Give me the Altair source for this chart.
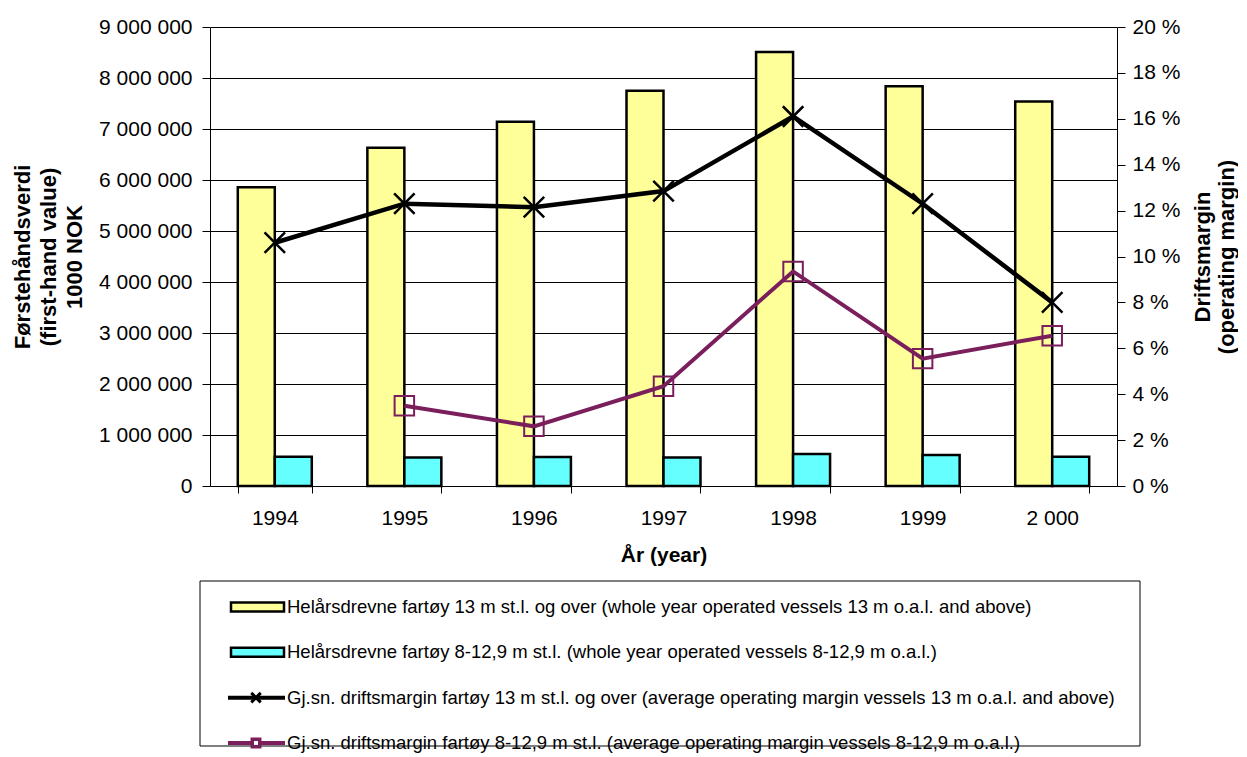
import altair as alt
import pandas as pd

years = ["1994", "1995", "1996", "1997", "1998", "1999", "2 000"]
value_13m = [5860000, 6630000, 7140000, 7750000, 8510000, 7840000, 7540000]
value_8m = [574000, 560000, 570000, 560000, 627000, 610000, 575000]
margin_13m = [10.6, 12.3, 12.15, 12.85, 16.1, 12.3, 8.0]
margin_8m = [None, 3.5, 2.6, 4.35, 9.35, 5.55, 6.55]

series_names = [
    "Helårsdrevne fartøy 13 m st.l. og over (whole year operated vessels 13 m o.a.l. and above)",
    "Helårsdrevne fartøy 8-12,9 m st.l. (whole year operated vessels 8-12,9 m o.a.l.)",
    "Gj.sn. driftsmargin fartøy 13 m st.l. og over (average operating margin vessels 13 m o.a.l. and above)",
    "Gj.sn. driftsmargin fartøy 8-12,9 m st.l. (average operating margin vessels 8-12,9 m o.a.l.)",
]
left_ticks = list(range(0, 9000001, 1000000))
right_ticks = list(range(0, 21, 2))

YELLOW = "#FFFF99"
CYAN = "#66FFFF"
PURPLE = "#7A1F5C"
XPATH = "M-1,-1L1,1M-1,1L1,-1"
FONT = "Liberation Sans"

bars_df = pd.DataFrame(
    [{"year": y, "series": series_names[0], "value": v} for y, v in zip(years, value_13m)]
    + [{"year": y, "series": series_names[1], "value": v} for y, v in zip(years, value_8m)]
)
m13_df = pd.DataFrame({"year": years, "margin": margin_13m})
m8_df = pd.DataFrame({"year": years, "margin": margin_8m}).dropna()

x_enc = alt.X(
    "year:N",
    sort=years,
    scale=alt.Scale(paddingInner=0.429, paddingOuter=0.2145),
    axis=alt.Axis(
        title="År (year)",
        labelAngle=0,
        tickBand="extent",
        tickSize=7,
        tickColor="black",
        domainColor="black",
        labelFontSize=21,
        labelPadding=14,
        labelColor="black",
        titleFontSize=21,
        titleFontWeight="bold",
        titlePadding=16,
        titleColor="black",
        grid=False,
    ),
)

left_axis = alt.Axis(
    values=left_ticks,
    orient="left",
    labelExpr="replace(format(datum.value, ','), /,/g, ' ')",
    title=["Førstehåndsverdi", "(first-hand value)", "1000 NOK"],
    titleFontSize=22,
    titleFontWeight="bold",
    titleLineHeight=26,
    titleAngle=270,
    titleBaseline="bottom",
    titlePadding=12,
    titleColor="black",
    labelFontSize=21,
    labelPadding=10,
    labelColor="black",
    tickSize=8,
    tickColor="black",
    domainColor="black",
    grid=True,
    gridColor="black",
    gridWidth=1,
)

right_axis = alt.Axis(
    values=right_ticks,
    orient="right",
    labelExpr="datum.value + ' %'",
    title=["Driftsmargin", "(operating margin)"],
    titleFontSize=22,
    titleFontWeight="bold",
    titleLineHeight=24,
    titleAngle=270,
    titleBaseline="top",
    titlePadding=-11,
    titleColor="black",
    labelFontSize=21,
    labelPadding=7,
    labelColor="black",
    tickSize=8,
    tickColor="black",
    domainColor="black",
    grid=False,
)

bars = alt.Chart(bars_df).mark_bar(stroke="black", strokeWidth=2.5).encode(
    x=x_enc,
    xOffset=alt.XOffset("series:N", sort=series_names[:2], scale=alt.Scale(paddingInner=0, paddingOuter=0)),
    y=alt.Y("value:Q", scale=alt.Scale(domain=[0, 9000000], nice=False), axis=left_axis),
    fill=alt.Fill("series:N", scale=alt.Scale(domain=series_names[:2], range=[YELLOW, CYAN]), legend=None),
)

yr = alt.Y("margin:Q", scale=alt.Scale(domain=[0, 20], nice=False), axis=right_axis)

line13 = alt.Chart(m13_df).mark_line(color="black", strokeWidth=4.5).encode(x=x_enc, y=yr)
pts13 = alt.Chart(m13_df).mark_point(
    shape=XPATH, size=420, filled=False, stroke="black", strokeWidth=2.5, opacity=1
).encode(x=x_enc, y=yr)
line8 = alt.Chart(m8_df).mark_line(color=PURPLE, strokeWidth=4).encode(x=x_enc, y=yr)
pts8 = alt.Chart(m8_df).mark_point(
    shape="square", size=380, filled=False, stroke=PURPLE, strokeWidth=2, opacity=1
).encode(x=x_enc, y=yr)

main = (
    alt.layer(bars, alt.layer(line13, pts13, line8, pts8))
    .resolve_scale(y="independent")
    .properties(width=907, height=459)
)

# ---- legend panel ----
leg_df = pd.DataFrame({"row": [0, 1, 2, 3], "label": series_names})
ly = alt.Scale(domain=[0, 3], range=[26, 162])
yl = alt.Y("row:Q", scale=ly, axis=None)

leg_box = (
    alt.Chart(pd.DataFrame({"row": [0]}))
    .mark_rect(fill="white", stroke="black", strokeWidth=1)
    .encode(x=alt.value(-10), x2=alt.value(930), y=alt.value(0), y2=alt.value(165))
)
leg_rect = (
    alt.Chart(leg_df)
    .transform_filter("datum.row < 2")
    .transform_calculate(y1="datum.row - 0.1", y2="datum.row + 0.1")
    .mark_rect(stroke="black", strokeWidth=2.5)
    .encode(
        x=alt.value(21),
        x2=alt.value(74),
        y=alt.Y("y1:Q", scale=ly, axis=None),
        y2="y2:Q",
        fill=alt.Fill("row:N", scale=alt.Scale(domain=[0, 1], range=[YELLOW, CYAN]), legend=None),
    )
)
leg_rule = (
    alt.Chart(leg_df)
    .transform_filter("datum.row >= 2")
    .mark_rule(strokeWidth=4)
    .encode(
        x=alt.value(18),
        x2=alt.value(75),
        y=yl,
        color=alt.Color("row:N", scale=alt.Scale(domain=[2, 3], range=["black", PURPLE]), legend=None),
    )
)
leg_x = (
    alt.Chart(leg_df)
    .transform_filter("datum.row == 2")
    .mark_point(shape=XPATH, size=90, filled=False, stroke="black", strokeWidth=3, opacity=1)
    .encode(x=alt.value(46), y=yl)
)
leg_sq = (
    alt.Chart(leg_df)
    .transform_filter("datum.row == 3")
    .mark_point(shape="square", size=80, filled=True, fill=PURPLE, stroke=PURPLE, strokeWidth=2, opacity=1)
    .encode(x=alt.value(46), y=yl)
)
leg_sq_in = (
    alt.Chart(leg_df)
    .transform_filter("datum.row == 3")
    .mark_point(shape="square", size=16, filled=True, fill="white", strokeWidth=0, opacity=1)
    .encode(x=alt.value(46), y=yl)
)
leg_text = (
    alt.Chart(leg_df)
    .mark_text(align="left", baseline="middle", fontSize=18.5, color="black")
    .encode(x=alt.value(77), y=yl, text="label:N")
)

legend = alt.layer(leg_box, leg_rect, leg_rule, leg_x, leg_sq, leg_sq_in, leg_text).properties(
    width=920, height=165
)

chart = (
    alt.vconcat(main, legend, spacing=15)
    .properties(padding={"left": 3, "top": 8, "right": 0, "bottom": 0})
    .configure(font=FONT)
    .configure_view(stroke=None)
)

chart.save("out.html", embed_options={"renderer": "svg", "actions": False})
